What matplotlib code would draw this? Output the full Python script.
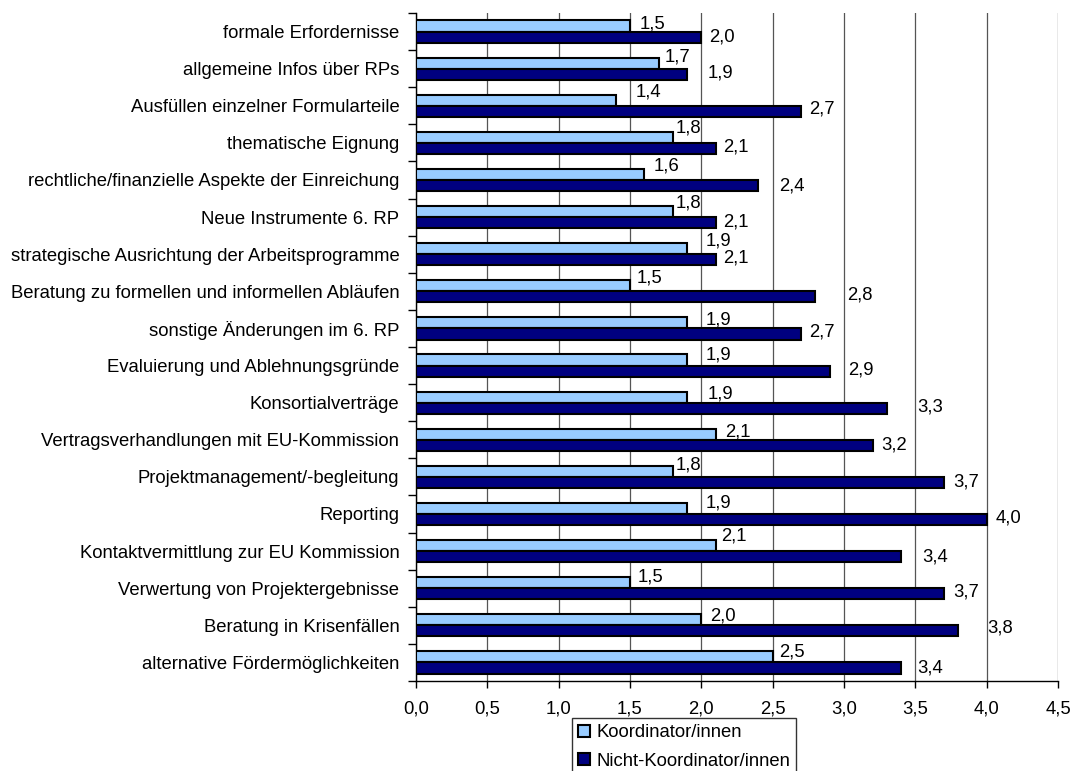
import matplotlib
matplotlib.use("Agg")
import matplotlib.pyplot as plt
import numpy as np
from matplotlib.ticker import FixedLocator, NullFormatter

plt.rcParams['font.family'] = ['Liberation Sans', 'DejaVu Sans']

categories = [
    "formale Erfordernisse",
    "allgemeine Infos über RPs",
    "Ausfüllen einzelner Formularteile",
    "thematische Eignung",
    "rechtliche/finanzielle Aspekte der Einreichung",
    "Neue Instrumente 6. RP",
    "strategische Ausrichtung der Arbeitsprogramme",
    "Beratung zu formellen und informellen Abläufen",
    "sonstige Änderungen im 6. RP",
    "Evaluierung und Ablehnungsgründe",
    "Konsortialverträge",
    "Vertragsverhandlungen mit EU-Kommission",
    "Projektmanagement/-begleitung",
    "Reporting",
    "Kontaktvermittlung zur EU Kommission",
    "Verwertung von Projektergebnisse",
    "Beratung in Krisenfällen",
    "alternative Fördermöglichkeiten",
]
koordinator = [1.5, 1.7, 1.4, 1.8, 1.6, 1.8, 1.9, 1.5, 1.9, 1.9,
               1.9, 2.1, 1.8, 1.9, 2.1, 1.5, 2.0, 2.5]
nicht_koordinator = [2.0, 1.9, 2.7, 2.1, 2.4, 2.1, 2.1, 2.8, 2.7, 2.9,
                     3.3, 3.2, 3.7, 4.0, 3.4, 3.7, 3.8, 3.4]
series_names = ["Koordinator/innen", "Nicht-Koordinator/innen"]
x_ticks = [0.0, 0.5, 1.0, 1.5, 2.0, 2.5, 3.0, 3.5, 4.0, 4.5]

# value-label placement (pixels right of bar end / pixels above bar centre)
dx_light = [10, 6, 20, 3, 9, 3, 19, 7, 19, 19, 21, 10, 3, 19, 6, 8, 9, 6]
dy_light = [2, 6, 8, 9, 8, 9, 7.5, 8, 3, 5, 3, 2, 6, 5.5, 10, 5.5, 3.5, 4.5]
dx_dark = [8, 21, 8, 8, 21, 8, 8, 32, 8, 18, 30, 9, 9, 9, 21, 9, 29, 16]
dy_dark = [0, 1, 2, 1, 0, 1, 1.5, 2, 2, 1, 1, 0, 0, 2, 0, 1.5, 2.5, 0]

LIGHT = "#99CCFF"
DARK = "#000080"
FS = 13.3

fig = plt.figure(figsize=(10.75, 7.71), dpi=100)
ax = fig.add_axes([416 / 1075, 1 - 681 / 771, 642 / 1075, 668 / 771])

n = len(categories)
y = np.arange(n)
h = 0.3
b1 = ax.barh(y - h / 2, koordinator, height=h, color=LIGHT,
             edgecolor="black", linewidth=1.5, zorder=3, label=series_names[0])
b2 = ax.barh(y + h / 2, nicht_koordinator, height=h, color=DARK,
             edgecolor="black", linewidth=1.5, zorder=3, label=series_names[1])

def fmt(v):
    return f"{v:.1f}".replace(".", ",")

for i in range(n):
    ax.annotate(fmt(koordinator[i]), (koordinator[i], y[i] - h / 2),
                xytext=(dx_light[i], dy_light[i]), textcoords="offset pixels",
                ha="left", va="center", fontsize=FS, zorder=4)
    ax.annotate(fmt(nicht_koordinator[i]), (nicht_koordinator[i], y[i] + h / 2),
                xytext=(dx_dark[i], dy_dark[i]), textcoords="offset pixels",
                ha="left", va="center", fontsize=FS, zorder=4)

ax.set_xlim(0, 4.5)
ax.set_ylim(n - 0.5, -0.5)

ax.set_xticks(x_ticks)
ax.set_xticklabels([fmt(t) for t in x_ticks], fontsize=FS)
ax.tick_params(axis="x", direction="out", length=5, width=1, pad=9)

# category boundaries carry the tick marks, names sit at the centres
ax.yaxis.set_major_locator(FixedLocator(np.arange(-0.5, n, 1.0)))
ax.yaxis.set_major_formatter(NullFormatter())
ax.yaxis.set_minor_locator(FixedLocator(y))
ax.set_yticklabels(categories, minor=True, fontsize=FS)
ax.tick_params(axis="y", which="major", direction="out", length=6, width=1)
ax.tick_params(axis="y", which="minor", length=0, pad=12)

ax.xaxis.grid(True, color="#555555", linewidth=0.9, zorder=0)
ax.set_axisbelow(True)
for s in ("top", "right"):
    ax.spines[s].set_visible(False)
for s in ("left", "bottom"):
    ax.spines[s].set_linewidth(1.0)
    ax.spines[s].set_color("black")

leg = fig.legend(handles=[b1, b2], labels=series_names, loc="upper left",
                 bbox_to_anchor=(572 / 1075, 1 - 718 / 771),
                 frameon=True, fancybox=False, fontsize=FS,
                 handlelength=0.65, handleheight=0.65, handletextpad=0.3,
                 labelspacing=0.6, borderpad=0.35, borderaxespad=0)
leg.get_frame().set_edgecolor("black")
leg.get_frame().set_linewidth(1.0)

fig.savefig("out.png", dpi=100)
